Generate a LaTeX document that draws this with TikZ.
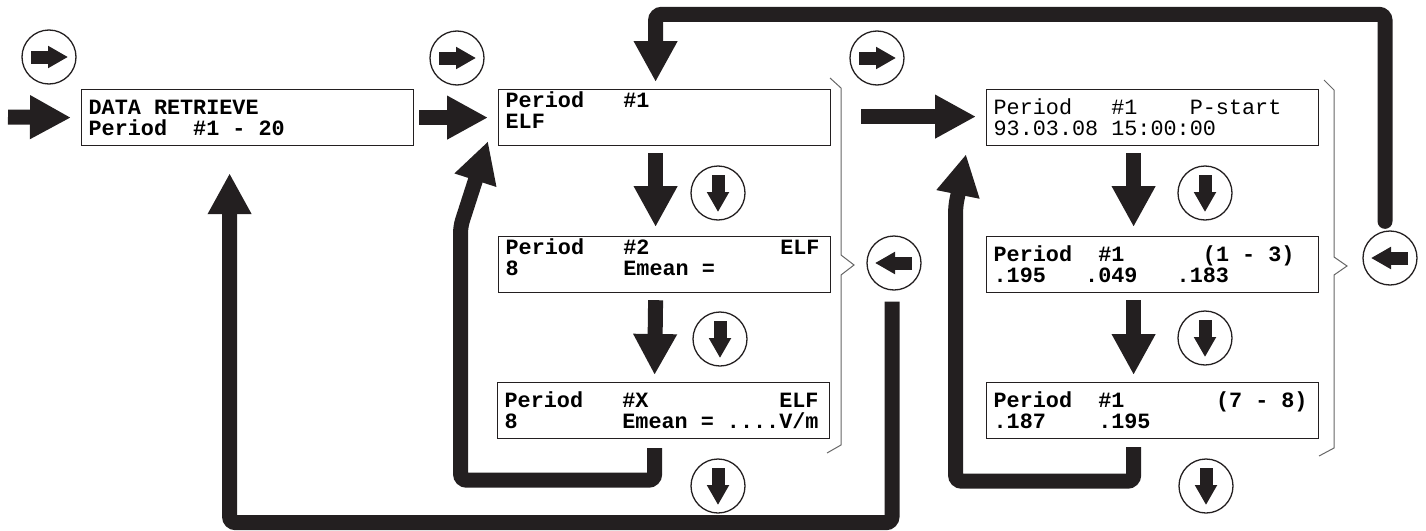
\documentclass[tikz,border=0pt]{standalone}
\usepackage{fontspec}
\newfontfamily\lcd{Liberation Mono}
\usetikzlibrary{arrows.meta}
\definecolor{ink}{HTML}{231F20}
\newcommand\gap[1]{\hspace*{#1\fontcharwd\font`0}}

\begin{document}
\begin{tikzpicture}[x=1pt,y=-1pt,
      screen/.style={draw=ink,line width=1.2pt,anchor=north west,text width=318pt,
        inner xsep=7pt,inner ysep=0pt,align=left,text height=25pt,text depth=31pt,
        font=\lcd\bfseries\fontsize{21.8pt}{21pt}\selectfont},
      high/.style={text height=18pt,text depth=38pt},
      light/.style={font=\lcd\mdseries\fontsize{21.8pt}{21pt}\selectfont},
      bigarrow/.style={draw=ink,line width=15pt,-{Triangle[length=41pt,width=41pt]}},
      loop/.style={bigarrow,rounded corners=6pt},
      key/.style={circle,draw=ink,line width=1.3pt,minimum size=54pt,inner sep=0pt},
      keyarrow/.style={draw=ink,line width=13pt,-{Triangle[length=20pt,width=21pt]}},
      brace/.style={draw=black!60,line width=1pt}]
    \useasboundingbox (0,0) rectangle (1426,530);

    \node[screen] (a) at (81,89) {DATA\gap1RETRIEVE\\Period\gap2\#1\gap1-\gap120};
    \node[screen,high] (b1) at (498,89) {Period\gap3\#1\\ELF};
    \node[screen,high] (b2) at (498,236) {Period\gap3\#2\gap{10}ELF\\8\gap8Emean\gap1=};
    \node[screen] (b3) at (497,382) {Period\gap3\#X\gap{10}ELF\\8\gap8Emean\gap1=\gap1....V/m};
    \node[screen,light] (c1) at (986,89) {Period\gap3\#1\gap4P-start\\93.03.08\gap115:00:00};
    \node[screen] (c2) at (986,236) {Period\gap2\#1\gap6(1\gap1-\gap13)\\.195\gap3.049\gap3.183};
    \node[screen] (c3) at (986,382) {Period\gap2\#1\gap7(7\gap1-\gap18)\\.187\gap4.195};

    \foreach \n/\x/\y/\r in {k1/49/57/0, k2/457/58/0, k3/877/58/0,
        k4/718/193/-90, k5/720/339/-90, k6/718/486/-90, k7/894/263/180,
        k8/1205/193/-90, k9/1205/338/-90, k10/1206/486/-90, k11/1390/258/180}
    {
      \node[key] (\n) at (\x,\y) {};
      \draw[keyarrow,shift={(\n.center)},rotate=\r] (-18,0) -- (19,0);
    }

    \draw[brace] (830,78) -- (841,88) -- (841,255) -- (854,265) -- (841,275) -- (841,445) -- (827,453);
    \draw[brace] (1324,80) -- (1334,90) -- (1334,257) -- (1347,266) -- (1334,275) -- (1334,448) -- (1319,456);

    \coordinate (in) at (8,117);
    \draw[bigarrow] (in) -- ([xshift=-10pt]a.west);
    \draw[bigarrow] ([xshift=5pt]a.east) -- ([xshift=-10pt]b1.west);
    \draw[bigarrow] ([xshift=30pt,yshift=1pt]b1.east) -- ([xshift=-10pt,yshift=1pt]c1.west);

    \draw[bigarrow] ([xshift=-9pt,yshift=-7pt]b1.south) -- ([xshift=-9pt,yshift=9pt]b2.north);
    \draw[bigarrow] ([xshift=-9pt,yshift=-7pt]b2.south) -- ([xshift=-9pt,yshift=7pt]b3.north);
    \draw[bigarrow] ([xshift=-19pt,yshift=-7pt]c1.south) -- ([xshift=-19pt,yshift=9pt]c2.north);
    \draw[bigarrow] ([xshift=-19pt,yshift=-7pt]c2.south) -- ([xshift=-19pt,yshift=7pt]c3.north);

    \draw[loop,line cap=round] ([xshift=-5pt,yshift=9pt]k11.north) -- ++(0,-207)
      -| ([xshift=-9pt,yshift=7pt]b1.north);
    \draw[loop] ([xshift=-9pt,yshift=-9pt]b3.south) -- ++(0,32) -- ++(-194,0) -- ++(0,-254)
      -- ([xshift=-10pt,yshift=5pt]b1.south west);
    \draw[loop] ([xshift=-19pt,yshift=-8pt]c3.south) -- ++(0,34) -- ++(-178,0) -- ++(0,-275)
      -- ([xshift=-20pt,yshift=-8pt]c1.south west);
    \draw[loop] ([xshift=-2pt,yshift=-11pt]k7.south) -- ++(0,221)
      -| ([xshift=-18pt,yshift=-27pt]a.south);
\end{tikzpicture}
\end{document}
